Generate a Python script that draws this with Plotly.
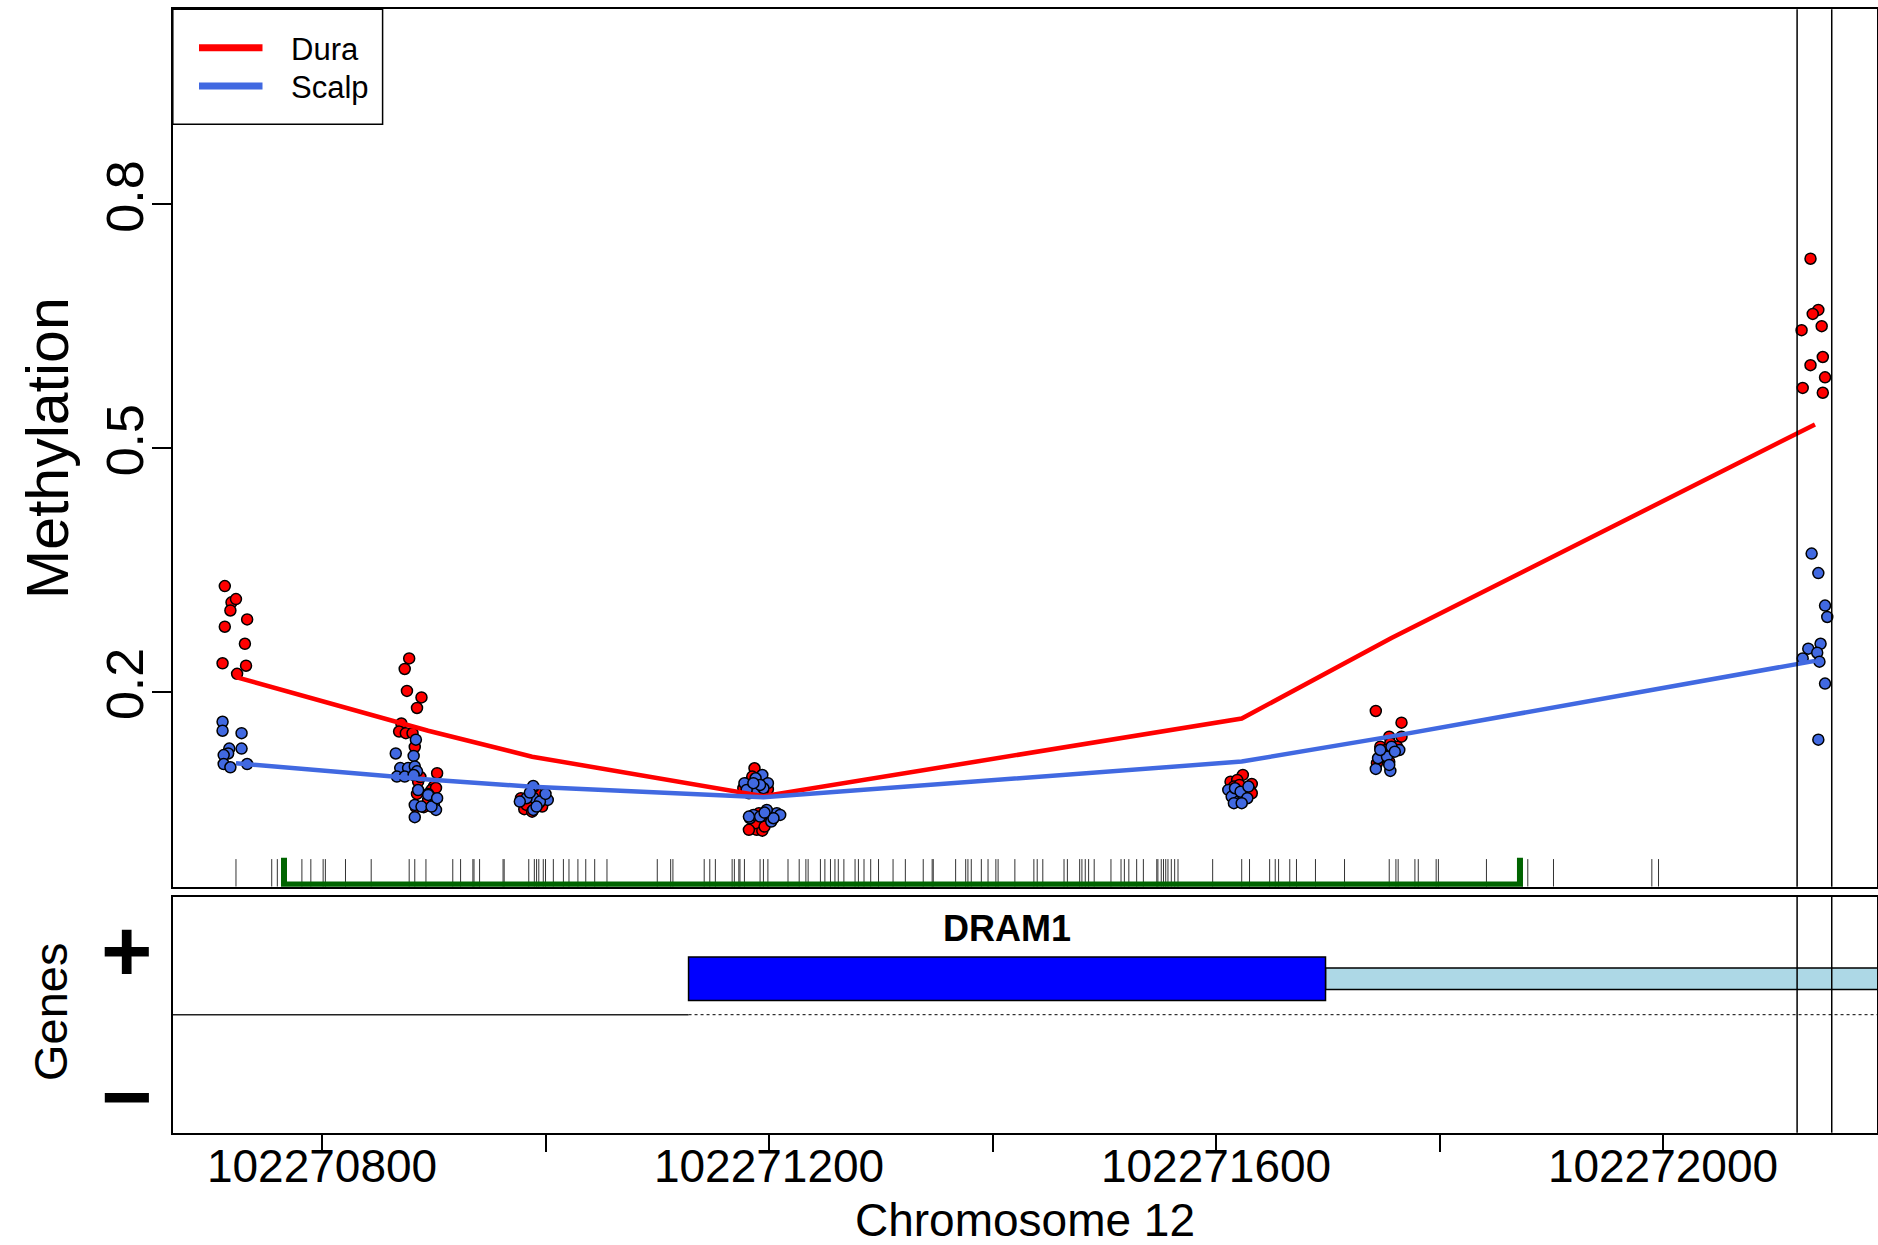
import plotly.graph_objects as go

# ---------------- data ----------------
dura_pos = [102270713, 102270719, 102270723, 102270718, 102270733, 102270713, 102270731, 102270711, 102270732, 102270724,
            102270878, 102270874, 102270876, 102270889, 102270885, 102270871, 102270869, 102270875, 102270881, 102270883,
            102270903, 102270886, 102270900, 102270898, 102270885, 102270884, 102270891, 102270902, 102270895, 102270888,
            102270978, 102270981, 102270998, 102270997, 102270986, 102270992, 102270989, 102270983, 102270994, 102270988,
            102271187, 102271180, 102271186, 102271199, 102271182, 102271190, 102271177, 102271194, 102271185, 102271196,
            102271191, 102271195, 102271185, 102271189, 102271194, 102271188, 102271199, 102271202, 102271196, 102271182,
            102271624, 102271613, 102271632, 102271627, 102271619, 102271630, 102271616, 102271624, 102271632, 102271621,
            102271743, 102271766, 102271755, 102271766, 102271747, 102271744, 102271755, 102271756, 102271752, 102271762,
            102272132, 102272139, 102272134, 102272124, 102272142, 102272143, 102272132, 102272145, 102272125, 102272143]
dura_val = [0.330, 0.310, 0.314, 0.300, 0.289, 0.280, 0.259, 0.235, 0.232, 0.222,
            0.241, 0.228, 0.201, 0.193, 0.180, 0.161, 0.151, 0.149, 0.149, 0.132,
            0.0997, 0.0893, 0.0832, 0.0791, 0.0742, 0.0579, 0.0579, 0.0816, 0.0668, 0.095,
            0.0689, 0.0554, 0.0718, 0.0586, 0.0668, 0.0751, 0.0825, 0.0607, 0.0628, 0.0524,
            0.1058, 0.0874, 0.0832, 0.080, 0.075, 0.0893, 0.0812, 0.0770, 0.0955, 0.0874,
            0.0505, 0.0414, 0.032, 0.030, 0.029, 0.0382, 0.0402, 0.0463, 0.034, 0.030,
            0.0976, 0.0893, 0.0865, 0.082, 0.0914, 0.0791, 0.0832, 0.0709, 0.075, 0.0853,
            0.1763, 0.1619, 0.1447, 0.1447, 0.1324, 0.112, 0.114, 0.1366, 0.1283, 0.1324,
            0.733, 0.670, 0.665, 0.645, 0.650, 0.612, 0.602, 0.587, 0.574, 0.568]

scalp_pos = [102270711, 102270711, 102270728, 102270728, 102270717, 102270716, 102270712, 102270712, 102270718, 102270733,
             102270884, 102270882, 102270866, 102270870, 102270877, 102270883, 102270885, 102270867, 102270874, 102270882,
             102270895, 102270883, 102270889, 102270900, 102270902, 102270883, 102270895, 102270898, 102270903, 102270886,
             102270989, 102270989, 102271002, 102270983, 102270995, 102270989, 102271000, 102270977, 102270992, 102270986,
             102271194, 102271199, 102271178, 102271188, 102271185, 102271189, 102271180, 102271195, 102271192, 102271186,
             102271183, 102271207, 102271198, 102271202, 102271186, 102271210, 102271192, 102271204, 102271182, 102271196,
             102271611, 102271614, 102271620, 102271624, 102271617, 102271622, 102271628, 102271616, 102271623, 102271629,
             102271750, 102271764, 102271743, 102271756, 102271745, 102271757, 102271753, 102271760, 102271747, 102271755,
             102272133, 102272139, 102272145, 102272147, 102272141, 102272130, 102272138, 102272125, 102272140, 102272145, 102272139]
scalp_val = [0.163, 0.152, 0.149, 0.130, 0.130, 0.124, 0.122, 0.111, 0.107, 0.111,
             0.141, 0.121, 0.124, 0.106, 0.106, 0.108, 0.102, 0.0955, 0.0955, 0.0975,
             0.0742, 0.0607, 0.0586, 0.0607, 0.0545, 0.0456, 0.073, 0.0586, 0.069, 0.079,
             0.0697, 0.0545, 0.0668, 0.0689, 0.0648, 0.0841, 0.0742, 0.0648, 0.0586, 0.0758,
             0.0975, 0.0874, 0.0874, 0.0935, 0.0812, 0.0791, 0.0791, 0.0812, 0.0853, 0.0874,
             0.0443, 0.0505, 0.0545, 0.0402, 0.0484, 0.0484, 0.0463, 0.0443, 0.0463, 0.0512,
             0.0791, 0.0709, 0.0648, 0.073, 0.0812, 0.077, 0.0689, 0.0628, 0.0628, 0.0832,
             0.1222, 0.1283, 0.105, 0.1025, 0.1181, 0.1324, 0.1201, 0.1262, 0.1283, 0.1099,
             0.370, 0.346, 0.306, 0.292, 0.259, 0.253, 0.248, 0.241, 0.237, 0.210, 0.141]

line_pos = [102270723, 102270874, 102270895, 102270988, 102271186, 102271195, 102271623, 102271757, 102272136]
dura_line = [0.218, 0.160, 0.152, 0.120, 0.0725, 0.0715, 0.167, 0.266, 0.529]
scalp_line = [0.112, 0.095, 0.092, 0.083, 0.0705, 0.070, 0.114, 0.145, 0.238]

cpg_pos = [102270723, 102270755, 102270760, 102270782, 102270790, 102270801, 102270803, 102270821, 102270844,
           102270878, 102270883, 102270893, 102270917, 102270924, 102270935, 102270936, 102270941, 102270962,
           102270963, 102270985, 102270990, 102270992, 102270994, 102270998, 102271000, 102271007, 102271016,
           102271021, 102271029, 102271036, 102271044, 102271055, 102271100, 102271112, 102271114, 102271142,
           102271147, 102271152, 102271167, 102271169, 102271173, 102271174, 102271178, 102271192, 102271195,
           102271199, 102271217, 102271227, 102271233, 102271235, 102271246, 102271250, 102271255, 102271259,
           102271262, 102271267, 102271277, 102271280, 102271285, 102271291, 102271298, 102271311, 102271322,
           102271338, 102271346, 102271347, 102271367, 102271376, 102271378, 102271381, 102271390, 102271396,
           102271403, 102271405, 102271420, 102271437, 102271440, 102271445, 102271464, 102271467, 102271478,
           102271480, 102271483, 102271486, 102271491, 102271506, 102271515, 102271518, 102271522, 102271529,
           102271535, 102271547, 102271548, 102271551, 102271553, 102271555, 102271557, 102271560, 102271563,
           102271566, 102271597, 102271623, 102271630, 102271648, 102271653, 102271656, 102271666, 102271672,
           102271689, 102271715, 102271755, 102271761, 102271763, 102271778, 102271781, 102271797, 102271799,
           102271842, 102271874, 102271879, 102271902, 102271990, 102271996]

dmr_region = [102270766, 102271872]
gene_name = "DRAM1"
gene_cds = [102271128, 102271698]
gene_utr = [102271698, 102272400]
highlight_lines = [102272120, 102272151]

group_names = ["Dura", "Scalp"]
x_ticks = [102270800, 102271000, 102271200, 102271400, 102271600, 102271800, 102272000]
x_tick_labels = ["102270800", "", "102271200", "", "102271600", "", "102272000"]
y_ticks = [0.2, 0.5, 0.8]
y_tick_labels = ["0.2", "0.5", "0.8"]
x_range = [102270666.2, 102272191.5]

# ---------------- layout helpers ----------------
W, H = 1878, 1245
FONT = "Liberation Sans, Arial, sans-serif"
def px(x):
    return x / W
def py(y):
    return 1 - y / H

RED = "#FF0000"
BLUE = "#4169E1"
colors = [RED, BLUE]

fig = go.Figure()

# points
fig.add_trace(go.Scatter(x=dura_pos, y=dura_val, mode="markers", showlegend=False,
                         marker=dict(size=11, color=RED, line=dict(color="black", width=1.5)),
                         xaxis="x", yaxis="y"))
fig.add_trace(go.Scatter(x=scalp_pos, y=scalp_val, mode="markers", showlegend=False,
                         marker=dict(size=11, color=BLUE, line=dict(color="black", width=1.5)),
                         xaxis="x", yaxis="y"))
# smoothed lines
fig.add_trace(go.Scatter(x=line_pos, y=dura_line, mode="lines", name=group_names[0], showlegend=False,
                         line=dict(color=RED, width=4.5), xaxis="x", yaxis="y"))
fig.add_trace(go.Scatter(x=line_pos, y=scalp_line, mode="lines", name=group_names[1], showlegend=False,
                         line=dict(color=BLUE, width=4.5), xaxis="x", yaxis="y"))

# rug of CpG positions
rx, ry = [], []
for p in cpg_pos:
    rx += [p, p, None]
    ry += [-0.04, -0.006, None]
fig.add_trace(go.Scatter(x=rx, y=ry, mode="lines", showlegend=False,
                         line=dict(color="#333333", width=1), xaxis="x", yaxis="y"))

# DMR bracket
fig.add_trace(go.Scatter(x=[dmr_region[0], dmr_region[0], dmr_region[1], dmr_region[1]],
                         y=[-0.0045, -0.0372, -0.0372, -0.0045], mode="lines", showlegend=False,
                         line=dict(color="#006400", width=6), xaxis="x", yaxis="y"))

shapes = []
# vertical highlight lines in both panels
for v in highlight_lines:
    shapes.append(dict(type="line", xref="x", yref="y domain", x0=v, x1=v, y0=0, y1=1,
                       line=dict(color="black", width=1.5)))
    shapes.append(dict(type="line", xref="x2", yref="y2 domain", x0=v, x1=v, y0=0, y1=1,
                       line=dict(color="black", width=1.5), layer="above"))
# gene track
shapes.append(dict(type="line", xref="x2", yref="y2", x0=x_range[0] - 50, x1=gene_cds[0], y0=0, y1=0,
                   line=dict(color="#222222", width=1.5), layer="below"))
shapes.append(dict(type="line", xref="x2", yref="y2", x0=gene_cds[0], x1=x_range[1] + 50, y0=0, y1=0,
                   line=dict(color="black", width=1, dash="dot"), layer="below"))
shapes.append(dict(type="rect", xref="x2", yref="y2", x0=gene_utr[0], x1=gene_utr[1], y0=0.214, y1=0.396,
                   fillcolor="#ADD8E6", line=dict(color="black", width=1.5), layer="below"))
shapes.append(dict(type="rect", xref="x2", yref="y2", x0=gene_cds[0], x1=gene_cds[1], y0=0.12, y1=0.49,
                   fillcolor="#0000FF", line=dict(color="black", width=1.5), layer="below"))

# legend box (drawn like R's legend)
shapes.append(dict(type="rect", xref="paper", yref="paper", x0=px(172.8), x1=px(382.6), y0=py(124.3), y1=py(9.3),
                   fillcolor="white", line=dict(color="black", width=1.5), layer="above"))
legend_y = [47.7, 86]
annotations = []
for name, col, ly in zip(group_names, colors, legend_y):
    shapes.append(dict(type="line", xref="paper", yref="paper", x0=px(199), x1=px(262.5), y0=py(ly), y1=py(ly),
                       line=dict(color=col, width=7), layer="above"))
    annotations.append(dict(text=name, x=px(289), y=py(ly + 1.5), xref="paper", yref="paper", showarrow=False,
                            font=dict(size=31, family=FONT, color="black"), xanchor="left", yanchor="middle"))

annotations += [
    dict(text="Methylation", x=px(48), y=py(448), xref="paper", yref="paper", textangle=-90,
         showarrow=False, font=dict(size=59, family=FONT, color="black"), xanchor="center", yanchor="middle"),
    dict(text="Genes", x=px(50), y=py(1012), xref="paper", yref="paper", textangle=-90,
         showarrow=False, font=dict(size=47, family=FONT, color="black"), xanchor="center", yanchor="middle"),
    dict(text="Chromosome 12", x=px(1024.75), y=py(1220), xref="paper", yref="paper",
         showarrow=False, font=dict(size=46, family=FONT, color="black"), xanchor="center", yanchor="middle"),
    dict(text="<b>+</b>", x=px(126), y=py(950), xref="paper", yref="paper",
         showarrow=False, font=dict(size=88, family=FONT, color="black"), xanchor="center", yanchor="middle"),
    dict(text="<b>\u2212</b>", x=px(126), y=py(1096), xref="paper", yref="paper",
         showarrow=False, font=dict(size=88, family=FONT, color="black"), xanchor="center", yanchor="middle"),
    dict(text="<b>" + gene_name + "</b>", x=(gene_cds[0] + gene_cds[1]) / 2, y=py(928), xref="x2", yref="paper",
         showarrow=False, font=dict(size=36, family=FONT, color="black"), xanchor="center", yanchor="middle"),
]

axis_common = dict(showline=True, mirror=True, linecolor="black", linewidth=1.5,
                   showgrid=False, zeroline=False)

fig.update_layout(
    width=W, height=H,
    margin=dict(l=0, r=0, t=0, b=0),
    paper_bgcolor="white", plot_bgcolor="white",
    font=dict(family=FONT, color="black"),
    showlegend=False,
    xaxis=dict(domain=[px(172.5), px(1877)], range=x_range, showticklabels=False, ticks="",
               layer="below traces", anchor="y", **axis_common),
    yaxis=dict(domain=[py(886.7), py(9.3)], range=[-0.04, 1.04], tickvals=y_ticks, ticktext=y_tick_labels,
               ticks="outside", ticklen=19, tickwidth=1.5, tickcolor="black", tickangle=-90,
               ticklabelstandoff=-12,
               tickfont=dict(size=52, family=FONT, color="black"), anchor="x", **axis_common),
    xaxis2=dict(domain=[px(172.5), px(1877)], range=x_range, tickvals=x_ticks, ticktext=x_tick_labels,
                ticks="outside", ticklen=18, tickwidth=1.5, tickcolor="black", ticklabelstandoff=-26,
                tickfont=dict(size=46, family=FONT, color="black"), anchor="y2", **axis_common),
    yaxis2=dict(domain=[py(1132.7), py(896.7)], range=[-1, 1], showticklabels=False, ticks="",
                anchor="x2", **axis_common),
    shapes=shapes,
    annotations=annotations,
)

fig.write_html("out.html", config={"displayModeBar": False},
               post_script="document.body.style.margin='0px';document.body.style.overflow='hidden';")
